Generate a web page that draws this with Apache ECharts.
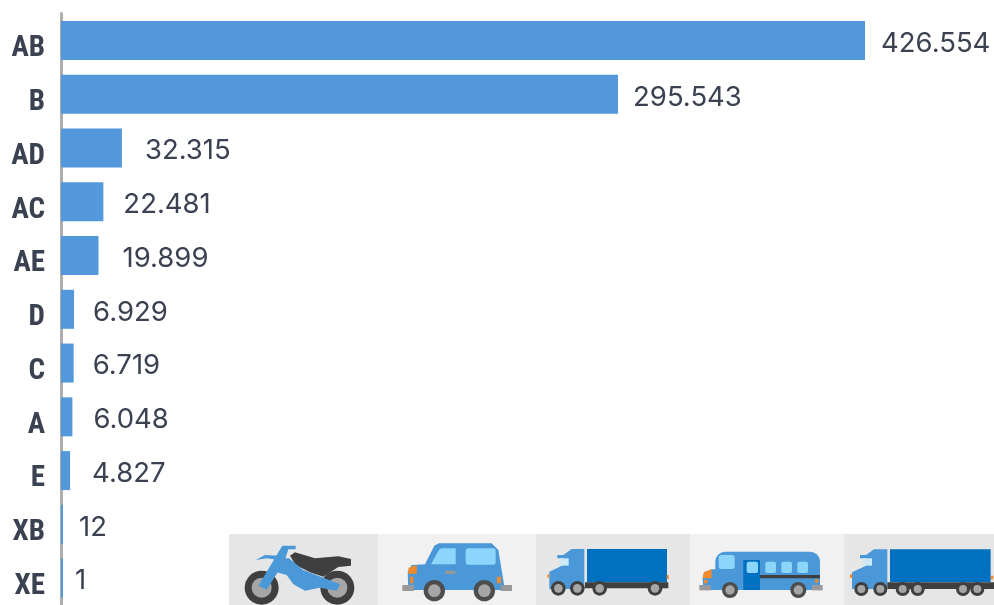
<!DOCTYPE html>
<html><head><meta charset="utf-8">
<style>html,body{margin:0;padding:0;background:#fff}#c{width:994px;height:605px}</style>
<script src="https://cdn.jsdelivr.net/npm/echarts@6/dist/echarts.min.js"></script>
</head><body><div id="c"></div>
<script>
const categories = ['AB','B','AD','AC','AE','D','C','A','E','XB','XE'];
const values = [426554,295543,32315,22481,19899,6929,6719,6048,4827,12,1];
const valueLabels = ['426.554','295.543','32.315','22.481','19.899','6.929','6.719','6.048','4.827','12','1'];
const labelGaps = [16,15,23,20,24,19,19,21,22,16,12];

const BLUE='#4a98d8', DEEP='#0070c0', DARK='#3f3f3f', GREY='#a6a6a6', SKY='#8dd6fb', ORANGE='#f08a2c', BUMP='#999999';
const rect=(x,y,w,h,fill,r)=>({type:'rect',shape:{x,y,width:w,height:h,r:r||0},style:{fill}});
const poly=(points,fill)=>({type:'polygon',shape:{points,smooth:0},style:{fill}});
const circ=(cx,cy,r,fill)=>({type:'circle',shape:{cx,cy,r},style:{fill}});
const wheel=(cx,cy,r,rim,tyre)=>[circ(cx,cy,r,tyre||DARK),circ(cx,cy,rim,GREY)];
const icon=(ox,oy,children)=>({type:'group',x:ox,y:oy,scaleX:1/3,scaleY:1/3,silent:true,children});
const panel=(x,w,fill)=>({type:'rect',shape:{x,y:534,width:w,height:71},style:{fill},silent:true});

const moto=icon(225,525,[
  ...wheel(110,188,51,30),...wheel(337,188,51,30),
  poly([[195,92],[210,82],[270,100],[340,94],[378,102],[378,122],[340,126],[295,155],[255,142],[212,120]],DARK),
  poly([[92,105],[120,90],[165,92],[160,105],[125,100]],BLUE),
  poly([[100,182],[172,62],[212,62],[212,73],[190,73],[178,110],[125,194]],BLUE),
  poly([[165,100],[192,100],[235,135],[345,178],[335,197],[285,188],[240,197],[205,178],[185,150],[150,140]],BLUE)
]);
const car=icon(225,525,[
  poly([[600,118],[628,62],[642,55],[800,55],[820,75],[840,195],[550,195],[548,140],[560,120]],BLUE),
  poly([[618,118],[642,74],[650,70],[692,70],[692,118]],SKY),
  rect(722,70,90,49,SKY,8),
  poly([[549,146],[551,128],[575,120],[575,146]],ORANGE),
  rect(555,155,10,20,ORANGE),rect(816,155,12,20,ORANGE),
  rect(532,180,35,18,BUMP),rect(827,180,34,18,BUMP),
  rect(660,137,32,10,BUMP,4),
  ...wheel(628,197,32,19,'#4d4d4d'),...wheel(778,197,32,19,'#4d4d4d')
]);
const truck=icon(530,525,[
  rect(171,72,240,100,DEEP),
  poly([[58,140],[58,192],[163,192],[163,72],[125,72],[100,90],[100,120]],BLUE),
  rect(82,90,32,10,BLUE),rect(88,100,28,22,'#cfe9f8'),
  rect(165,172,250,18,DARK),
  rect(52,148,6,10,ORANGE),rect(410,150,6,12,ORANGE),
  ...wheel(85,190,22,13),...wheel(142,190,22,13),...wheel(209,190,22,13),...wheel(375,190,22,13)
]);
const bus=icon(530,525,[
  rect(556,80,314,115,BLUE,[30,30,0,0]),
  poly([[518,160],[522,142],[545,133],[560,133],[560,195],[520,195]],BLUE),
  poly([[518,160],[522,142],[545,133],[545,160]],ORANGE),
  rect(640,105,50,90,DEEP),
  rect(566,90,48,42,SKY,8),rect(650,110,34,34,SKY,6),rect(706,110,32,34,SKY,6),rect(754,110,32,34,SKY,6),rect(802,110,32,34,SKY,6),
  rect(690,150,180,10,DARK),
  rect(508,180,34,16,BUMP),rect(846,180,32,16,BUMP),
  rect(522,165,10,10,ORANGE),rect(855,163,10,10,ORANGE),
  ...wheel(600,195,24,14,'#4d4d4d'),...wheel(805,195,24,14,'#4d4d4d')
]);
const longTruck=icon(830,525,[
  rect(180,73,302,98,DEEP),
  poly([[66,142],[66,192],[172,192],[172,73],[132,73],[108,90],[108,122]],BLUE),
  rect(90,90,32,10,BLUE),rect(98,100,28,22,'#cfe9f8'),
  rect(172,172,320,20,DARK),
  rect(60,148,7,11,ORANGE),rect(483,152,7,11,ORANGE),
  ...wheel(94,192,21,12),...wheel(151,192,21,12),...wheel(218,192,21,12),...wheel(263,192,21,12),...wheel(399,192,21,12),...wheel(442,192,21,12)
]);

const chart=echarts.init(document.getElementById('c'),null,{renderer:'canvas'});
chart.setOption({
  animation:false,
  backgroundColor:'#fff',
  grid:{left:61,right:0,top:13.6,bottom:0,containLabel:false},
  xAxis:{type:'value',min:0,max:495000,show:false},
  yAxis:{type:'category',inverse:true,data:categories,
    axisTick:{show:false},
    axisLine:{show:true,lineStyle:{color:'#aeaeae',width:3},onZero:false},
    axisLabel:{margin:16,color:'#3a4252',fontFamily:'"Roboto Condensed","Roboto",sans-serif',fontWeight:'bold',fontSize:29,verticalAlign:'top',lineHeight:17},
    z:0},
  series:[{type:'bar',z:3,barWidth:39,barMinHeight:2,
    data:values.map((v,i)=>({value:v,label:{distance:labelGaps[i],formatter:valueLabels[i]}})),
    itemStyle:{color:'#5398db'},
    label:{show:true,position:'right',offset:[0,3],color:'#3a4252',fontFamily:'"Inter","Open Sans",sans-serif',fontSize:27.5}
  }],
  graphic:[panel(229,149,'#e6e6e6'),panel(378,158,'#f1f1f1'),panel(536,154,'#e6e6e6'),panel(690,154,'#f1f1f1'),panel(844,150,'#e6e6e6'),moto,car,truck,bus,longTruck]
});
</script></body></html>
